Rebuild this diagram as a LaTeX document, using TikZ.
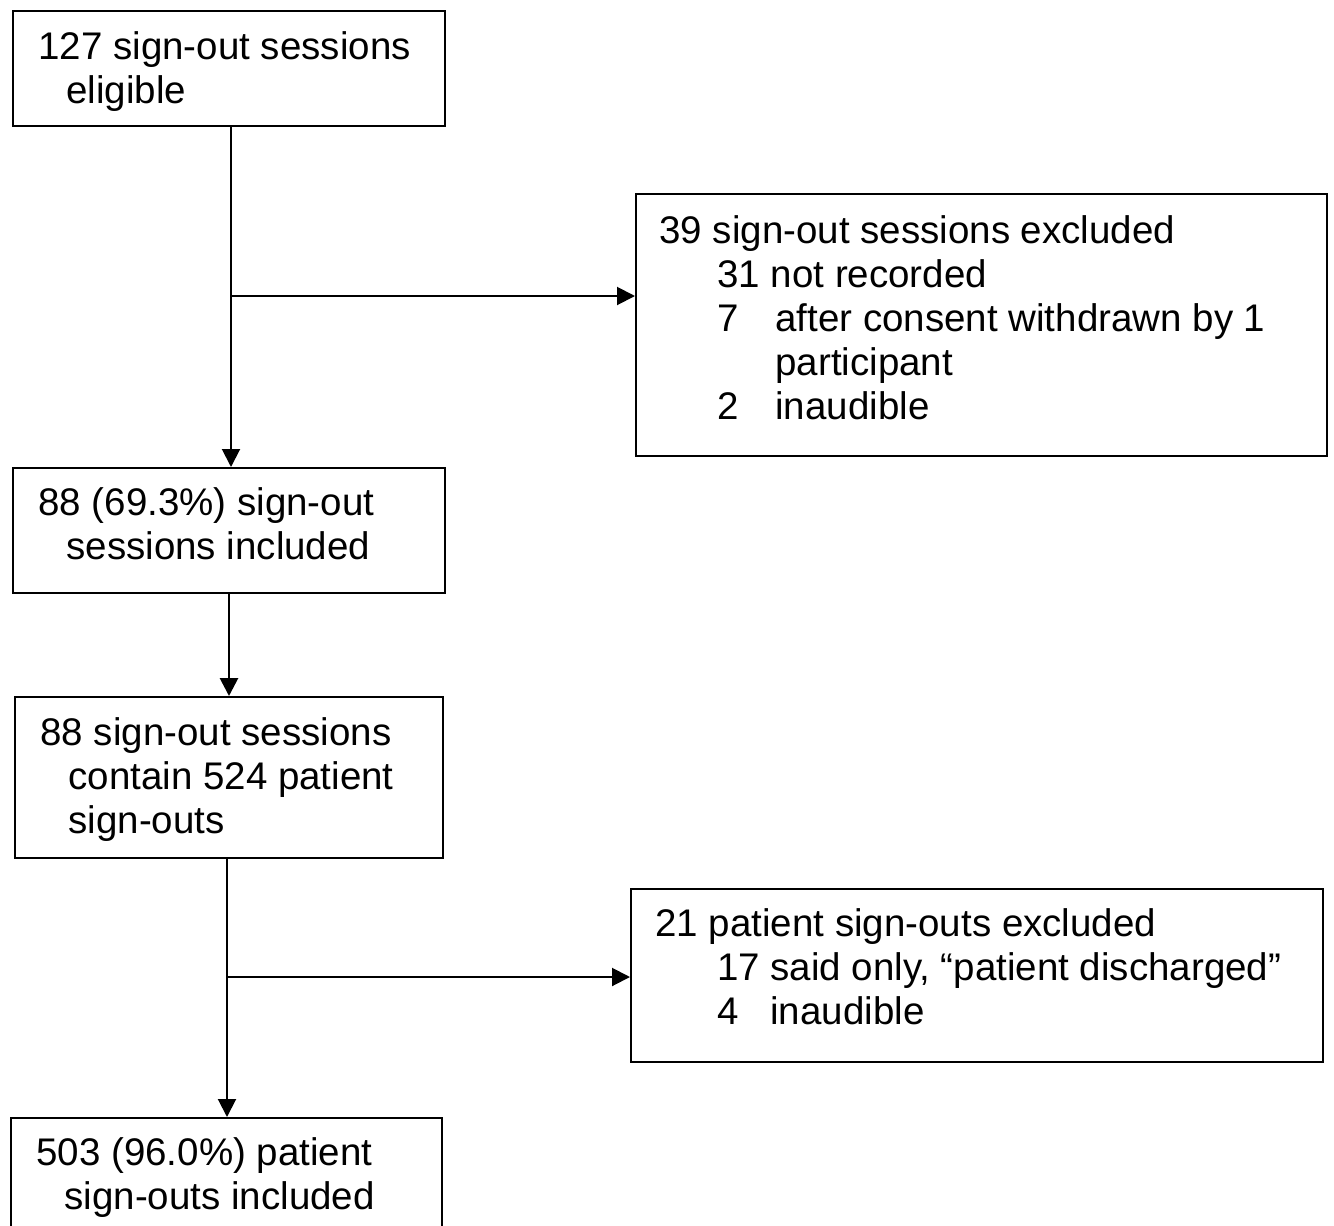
\documentclass[tikz,border=0pt]{standalone}
\usepackage{fontspec}
\setmainfont{Liberation Sans}
\usetikzlibrary{arrows.meta}
\begin{document}
\begin{tikzpicture}[x=0.5pt,y=-0.5pt,
  box/.style={draw,line width=1pt,anchor=north west,inner sep=0pt},
  txt/.style={anchor=base west,inner sep=0pt,font=\fontsize{19.25}{22}\selectfont},
  arr/.style={line width=1pt,-{Triangle[length=9pt,width=9pt]}}]
\useasboundingbox (0,0) rectangle (1334,1226);
\clip (0,0) rectangle (1334,1226);
% boxes
\node[box,minimum width=216pt,minimum height=57.5pt] (b1) at (12,10) {};
\node[box,minimum width=345.5pt,minimum height=131pt] (b2) at (635,193) {};
\node[box,minimum width=216pt,minimum height=62.5pt] (b3) at (12,467) {};
\node[box,minimum width=214pt,minimum height=80.5pt] (b4) at (14,696) {};
\node[box,minimum width=346pt,minimum height=86.5pt] (b5) at (630,888) {};
\node[box,minimum width=215.5pt,minimum height=70pt] (b6) at (10,1117) {};
% texts
\node[txt] (t11) at (38,59) {127 sign-out sessions};
\node[txt] (t12) at (66,103) {eligible};
\node[txt] (t21) at (659,243) {39 sign-out sessions excluded};
\node[txt] (t22) at (717,287) {31 not recorded};
\node[txt] (t23a) at (717,331) {7};
\node[txt] (t23b) at (775,331) {after consent withdrawn by 1};
\node[txt] (t24) at (775,375) {participant};
\node[txt] (t25a) at (717,419) {2};
\node[txt] (t25b) at (775,419) {inaudible};
\node[txt] (t31) at (38,515) {88 (69.3\%) sign-out};
\node[txt] (t32) at (66,559) {sessions included};
\node[txt] (t41) at (40,745) {88 sign-out sessions};
\node[txt] (t42) at (68,789) {contain 524 patient};
\node[txt] (t43) at (68,833) {sign-outs};
\node[txt] (t51) at (655,936) {21 patient sign-outs excluded};
\node[txt] (t52a) at (717,980) {17};
\node[txt] (t52b) at (770,980) {said only, “patient discharged”};
\node[txt] (t53a) at (717,1024) {4};
\node[txt] (t53b) at (770,1024) {inaudible};
\node[txt] (t61) at (36,1165) {503 (96.0\%) patient};
\node[txt] (t62) at (64,1209) {sign-outs included};
% junctions
\coordinate (j1) at (231,296);
\coordinate (j2) at (229,640);
\coordinate (j3) at (227,977);
% connectors
\draw[arr] (b1.south -| j1) -- (b3.north -| j1);
\draw[arr] (j1) -- (j1 -| b2.west);
\draw[arr,line width=1.4pt] (b3.south -| j2) -- (b4.north -| j2);
\draw[arr] (b4.south -| j3) -- (b6.north -| j3);
\draw[arr] (j3) -- (j3 -| b5.west);
\end{tikzpicture}
\end{document}
